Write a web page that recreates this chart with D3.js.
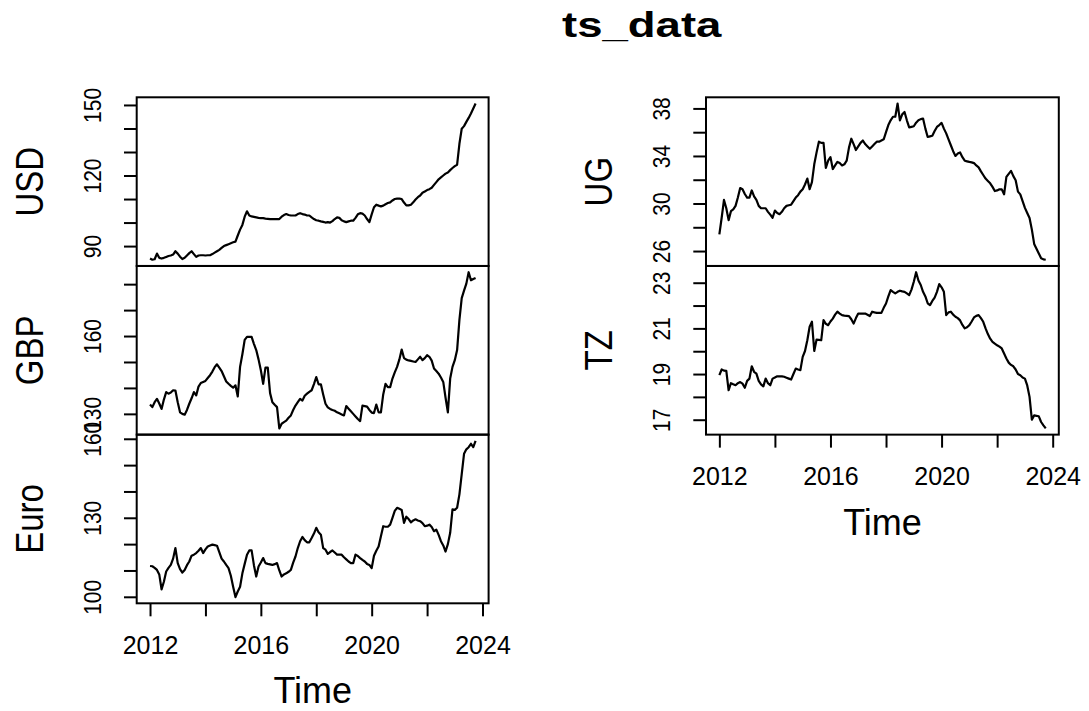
<!DOCTYPE html>
<html>
<head>
<meta charset="utf-8">
<script src="https://cdn.jsdelivr.net/npm/d3@7"></script>
<style>
  html, body { margin: 0; padding: 0; background: #ffffff; }
  svg { display: block; }
  text { font-family: "Liberation Sans", Arial, Helvetica, sans-serif; fill: #000; }
</style>
</head>
<body>
<svg id="chart" width="1089" height="711"></svg>
<script>
// Monthly series, January 2012 onwards (frequency 12)
const startYear = 2012;
const frequency = 12;

const usd = [84.7,84.2,84.4,86.8,85.0,84.7,85.0,85.4,85.8,86.0,
  86.4,87.8,86.8,85.5,84.5,85.0,86.0,87.0,87.8,86.6,
  85.4,86.0,86.1,86.1,86.0,86.1,86.1,86.6,87.2,87.8,
  88.4,89.2,90.0,90.4,90.8,91.2,91.6,91.9,94.5,97.0,
  99.0,102.5,104.8,103.0,102.6,102.4,102.2,102.0,101.9,101.9,
  101.7,101.6,101.5,101.5,101.5,101.5,101.5,102.5,103.2,103.6,
  103.2,103.0,103.0,103.0,103.6,104.0,103.6,103.4,103.0,103.0,
  102.2,101.5,101.0,100.8,100.5,100.3,100.0,100.2,100.0,100.6,
  101.5,102.2,102.0,101.0,100.5,100.2,100.5,100.8,100.8,102.0,
  103.5,104.0,103.8,103.0,101.5,100.2,103.5,106.5,107.6,107.2,
  106.9,107.2,107.8,108.3,108.6,109.4,110.0,110.2,110.2,110.0,
  108.5,107.3,107.3,107.6,108.6,109.8,110.8,111.5,112.7,113.2,
  113.8,114.2,114.8,116.0,117.2,118.4,119.2,120.0,120.8,121.3,
  122.3,123.2,124.0,124.6,133.5,139.9,141.0,142.8,144.5,146.4,
  148.5,150.6];

const gbp = [133.6,132.6,134.5,135.8,134.0,131.9,135.5,138.4,137.8,138.2,
  139.1,139.0,134.5,130.6,130.0,129.7,131.5,133.9,136.0,138.4,
  137.1,140.5,141.9,142.3,142.7,143.8,144.9,146.3,148.0,149.1,
  147.8,146.5,144.5,142.5,141.6,140.8,140.1,141.0,136.7,148.1,
  153.0,158.5,159.7,159.7,159.7,157.0,154.6,151.0,146.8,141.6,
  147.8,147.8,138.0,134.5,133.5,132.6,124.4,126.2,126.8,127.4,
  128.5,129.4,131.5,133.2,134.5,135.8,135.1,137.0,137.8,138.5,
  139.1,141.5,144.2,141.4,141.4,137.5,133.9,132.5,131.9,131.5,
  131.2,130.6,130.2,129.8,129.4,133.0,132.0,131.0,130.0,129.0,
  128.0,127.2,133.2,133.0,132.8,131.5,130.5,130.3,133.6,130.6,
  130.6,137.5,141.6,140.3,140.3,143.6,146.0,148.1,151.0,154.8,
  151.5,150.9,150.6,150.4,150.2,150.0,151.0,152.0,150.7,151.5,
  152.6,152.0,150.5,147.5,146.5,145.5,144.0,142.3,136.2,130.6,
  143.6,148.1,150.7,154.6,166.2,174.6,177.5,180.2,184.6,181.5,
  182.0,182.4];

const euro = [111.7,111.6,111.0,110.2,108.5,102.8,105.7,109.6,111.0,112.1,
  114.5,118.5,112.8,110.5,109.2,110.2,112.0,113.4,115.6,116.0,
  116.6,117.5,118.5,116.6,118.0,119.1,119.5,119.8,119.6,119.4,
  117.0,114.5,113.4,112.1,110.9,108.0,103.8,99.9,102.0,103.8,
  108.9,112.5,116.0,117.6,117.6,112.0,107.7,111.5,113.0,114.7,
  112.8,112.5,112.3,112.1,112.4,112.8,110.0,107.7,108.5,108.9,
  109.5,110.2,113.0,115.3,118.5,121.1,122.7,121.5,120.7,120.7,
  122.3,124.0,126.2,124.5,123.6,118.5,117.9,116.3,117.0,117.6,
  116.8,116.0,116.0,116.0,115.0,114.2,113.4,112.8,112.8,116.0,
  115.5,114.7,114.0,113.4,112.5,112.1,110.9,115.6,117.5,119.1,
  123.0,126.8,126.6,126.6,127.4,130.0,132.6,133.8,133.4,133.0,
  128.1,130.4,129.5,128.3,129.0,129.4,129.0,128.7,128.0,126.8,
  127.0,127.4,126.5,124.9,125.5,123.5,121.1,119.5,117.2,120.0,
  124.3,133.2,133.0,133.8,138.9,146.6,154.3,156.0,156.8,158.1,
  156.8,159.2];

const ug = [27.4,28.8,30.3,29.6,28.6,29.35,29.5,29.8,30.5,31.3,
  31.2,30.8,30.5,30.5,31.1,30.6,30.3,29.8,29.6,29.6,
  29.6,29.3,29.06,28.8,29.4,29.2,29.1,29.3,29.6,29.8,
  29.85,29.9,30.2,30.5,30.7,31.0,31.2,31.6,32.1,31.2,
  31.8,33.3,34.3,35.2,35.1,35.1,33.0,33.6,33.9,32.9,
  33.2,33.5,33.4,33.2,33.3,33.6,34.7,35.45,35.0,34.5,
  34.8,35.1,35.3,35.0,34.8,34.6,34.8,35.0,35.2,35.2,
  35.3,35.4,36.0,36.6,37.0,37.3,37.3,38.41,37.0,37.5,
  37.7,37.0,36.4,36.45,36.5,36.8,37.0,37.1,37.15,36.3,
  35.6,35.65,35.7,36.1,36.44,36.6,36.78,36.3,35.9,35.4,
  34.9,34.4,34.0,34.2,34.3,33.9,33.6,33.55,33.5,33.46,
  33.4,33.2,33.04,32.7,32.4,32.1,31.9,31.7,31.4,31.05,
  31.1,31.2,31.19,30.77,32.24,32.5,32.75,32.3,31.96,31.0,
  30.77,30.2,29.63,29.2,28.78,27.8,26.6,26.2,25.8,25.4,
  25.3,25.27];

const tz = [18.95,19.2,19.15,19.14,18.29,18.6,18.55,18.51,18.6,18.65,
  18.58,18.4,18.7,18.8,19.34,19.1,19.02,18.7,18.55,18.46,
  18.8,18.6,18.51,18.8,18.85,18.9,18.9,18.9,18.88,18.84,
  18.8,18.76,19.0,19.24,19.2,19.17,19.75,20.01,20.48,21.07,
  21.29,20.01,20.51,20.5,20.48,21.36,21.2,21.14,21.3,21.43,
  21.6,21.73,21.65,21.58,21.56,21.55,21.54,21.4,21.21,21.45,
  21.65,21.65,21.65,21.65,21.6,21.54,21.73,21.7,21.68,21.68,
  21.68,21.9,22.09,22.4,22.68,22.6,22.53,22.6,22.65,22.62,
  22.6,22.53,22.46,22.7,23.04,23.46,23.1,22.9,22.6,22.4,
  22.1,22.02,22.2,22.35,22.6,22.94,22.8,22.6,21.58,21.7,
  21.73,21.6,21.51,21.45,21.35,21.15,21.0,21.05,21.14,21.3,
  21.48,21.55,21.58,21.45,21.29,21.0,20.75,20.55,20.41,20.33,
  20.26,20.2,20.12,19.9,19.68,19.5,19.4,19.34,19.2,19.0,
  18.95,18.85,18.8,18.5,18.0,17.0,17.19,17.17,17.15,16.9,
  16.75,16.62];

// Panel names, tick positions and which ticks carry a label
const seriesNames = ["USD", "GBP", "Euro", "UG", "TZ"];
const seriesValues = [usd, gbp, euro, ug, tz];
const yTicks = [
  [90, 100, 110, 120, 130, 140, 150],
  [130, 140, 150, 160, 170, 180],
  [100, 110, 120, 130, 140, 150, 160],
  [26, 28, 30, 32, 34, 36, 38],
  [17, 18, 19, 20, 21, 22, 23]
];
const yTickLabels = [
  [90, 120, 150],
  [130, 160],
  [100, 130, 160],
  [26, 30, 34, 38],
  [17, 19, 21, 23]
];
const xTicks = [2012, 2014, 2016, 2018, 2020, 2022, 2024];
const xTickLabels = [2012, 2016, 2020, 2024];
const chartTitle = "ts_data";
const xTitle = "Time";

// ---- layout ----
const svg = d3.select("#chart");
const columns = [
  { left: 137, right: 488.6 },
  { left: 706.3, right: 1058.8 }
];
const plotTop = 97.3;
const panelH = 168.67;
const rowsPerCol = 3;

const n = usd.length;
const times = d3.range(n).map(i => startYear + i / frequency);
const tMin = d3.min(times), tMax = d3.max(times);
const tPad = (tMax - tMin) * 0.04;

function padded(vals) {
  const [lo, hi] = d3.extent(vals);
  const p = (hi - lo) * 0.04;
  return [lo - p, hi + p];
}

svg.append("text")
  .attr("transform", "translate(641.7,37) scale(1.3,1)")
  .attr("text-anchor", "middle")
  .attr("font-size", 35)
  .attr("font-weight", "bold")
  .text(chartTitle);

seriesValues.forEach((vals, k) => {
  const colIdx = Math.floor(k / rowsPerCol);
  const row = k % rowsPerCol;
  const col = columns[colIdx];
  const top = plotTop + row * panelH;
  const bottom = top + panelH;
  const isLastInCol = (k === seriesValues.length - 1) || row === rowsPerCol - 1;

  const x = d3.scaleLinear().domain([tMin - tPad, tMax + tPad]).range([col.left, col.right]);
  const y = d3.scaleLinear().domain(padded(vals)).range([bottom, top]);

  const g = svg.append("g");

  // series line
  const line = d3.line()
    .x((d, i) => x(times[i]))
    .y(d => y(d));
  g.append("path")
    .datum(vals)
    .attr("d", line)
    .attr("fill", "none")
    .attr("stroke", "#000")
    .attr("stroke-width", 2.2)
    .attr("stroke-linejoin", "round");

  // y axis
  const labels = yTickLabels[k];
  const yAxis = d3.axisLeft(y)
    .tickValues(yTicks[k])
    .tickSize(13)
    .tickSizeOuter(0)
    .tickFormat(v => labels.includes(v) ? String(v) : "");
  const ya = g.append("g")
    .attr("transform", `translate(${col.left},0)`)
    .call(yAxis);
  ya.select(".domain").remove();
  ya.selectAll(".tick line").attr("stroke", "#000").attr("stroke-width", 2);
  ya.selectAll(".tick text")
    .attr("x", 0).attr("y", 0).attr("dy", 0)
    .attr("text-anchor", "middle")
    .attr("transform", "translate(-36,0) rotate(-90) scale(1,1.15)")
    .attr("font-size", 21)
    .attr("font-family", "Liberation Sans, Arial, sans-serif")
    .attr("fill", "#000");

  // series name
  g.append("text")
    .attr("transform", `translate(${col.left - 94},${(top + bottom) / 2}) rotate(-90) scale(1,1.2)`)
    .attr("text-anchor", "middle")
    .attr("font-size", 33)
    .text(seriesNames[k]);

  // panel frame
  g.append("rect")
    .attr("x", col.left - 0.3)
    .attr("y", top)
    .attr("width", col.right - col.left + 0.3)
    .attr("height", panelH)
    .attr("fill", "none")
    .attr("stroke", "#000")
    .attr("stroke-width", 2);

  // time axis under the lowest panel of each column
  if (isLastInCol) {
    const xAxis = d3.axisBottom(x)
      .tickValues(xTicks)
      .tickSize(13)
      .tickSizeOuter(0)
      .tickFormat(v => xTickLabels.includes(v) ? String(v) : "");
    const xa = g.append("g")
      .attr("transform", `translate(0,${bottom})`)
      .call(xAxis);
    xa.select(".domain").remove();
    xa.selectAll(".tick line").attr("stroke", "#000").attr("stroke-width", 2);
    xa.selectAll(".tick text")
      .attr("y", 50.5).attr("dy", 0)
      .attr("font-size", 25)
      .attr("font-family", "Liberation Sans, Arial, sans-serif")
      .attr("fill", "#000");

    g.append("text")
      .attr("x", (col.left + col.right) / 2)
      .attr("y", bottom + 100)
      .attr("text-anchor", "middle")
      .attr("font-size", 36)
      .text(xTitle);
  }
});
</script>
</body>
</html>
